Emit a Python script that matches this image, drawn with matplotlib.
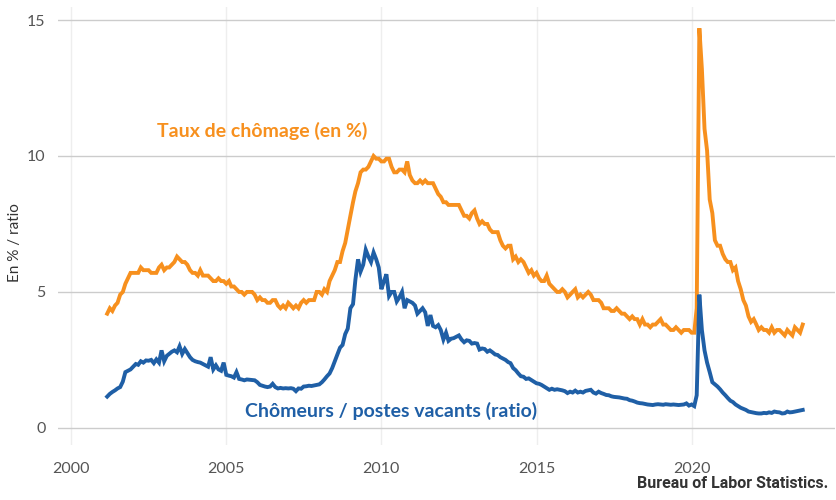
import pandas as pd
import matplotlib.pyplot as plt
import matplotlib.dates as mdates

# taux de chômage (en %), mensuel, mars 2001 -> août 2023
chomage = [
    4.2, 4.4, 4.3, 4.5, 4.6, 4.9, 5.0, 5.3, 5.5, 5.7,                # 2001 (mars-déc)
    5.7, 5.7, 5.7, 5.9, 5.8, 5.8, 5.8, 5.7, 5.7, 5.7, 5.9, 6.0,      # 2002
    5.8, 5.9, 5.9, 6.0, 6.1, 6.3, 6.2, 6.1, 6.1, 6.0, 5.8, 5.7,      # 2003
    5.7, 5.6, 5.8, 5.6, 5.6, 5.6, 5.5, 5.4, 5.4, 5.5, 5.4, 5.4,      # 2004
    5.3, 5.4, 5.2, 5.2, 5.1, 5.0, 5.0, 4.9, 5.0, 5.0, 5.0, 4.9,      # 2005
    4.7, 4.8, 4.7, 4.7, 4.6, 4.6, 4.7, 4.7, 4.5, 4.4, 4.5, 4.4,      # 2006
    4.6, 4.5, 4.4, 4.5, 4.4, 4.6, 4.7, 4.6, 4.7, 4.7, 4.7, 5.0,      # 2007
    5.0, 4.9, 5.1, 5.0, 5.4, 5.6, 5.8, 6.1, 6.1, 6.5, 6.8, 7.3,      # 2008
    7.8, 8.3, 8.7, 9.0, 9.4, 9.5, 9.5, 9.6, 9.8, 10.0, 9.9, 9.9,     # 2009
    9.8, 9.8, 9.9, 9.9, 9.6, 9.4, 9.4, 9.5, 9.5, 9.4, 9.8, 9.3,      # 2010
    9.1, 9.0, 9.0, 9.1, 9.0, 9.1, 9.0, 9.0, 9.0, 8.8, 8.6, 8.5,      # 2011
    8.3, 8.3, 8.2, 8.2, 8.2, 8.2, 8.2, 8.0, 7.8, 7.8, 7.7, 7.9,      # 2012
    8.0, 7.7, 7.5, 7.6, 7.5, 7.5, 7.3, 7.2, 7.2, 7.2, 6.9, 6.7,      # 2013
    6.6, 6.7, 6.7, 6.2, 6.3, 6.1, 6.2, 6.1, 5.9, 5.7, 5.8, 5.6,      # 2014
    5.7, 5.5, 5.4, 5.4, 5.6, 5.3, 5.2, 5.1, 5.0, 5.0, 5.1, 5.0,      # 2015
    4.8, 4.9, 5.0, 5.1, 4.8, 4.9, 4.8, 4.9, 5.0, 4.9, 4.7, 4.7,      # 2016
    4.7, 4.6, 4.4, 4.4, 4.4, 4.3, 4.3, 4.4, 4.3, 4.2, 4.2, 4.1,      # 2017
    4.0, 4.1, 4.0, 4.0, 3.8, 4.0, 3.8, 3.8, 3.7, 3.8, 3.8, 3.9,      # 2018
    4.0, 3.8, 3.8, 3.7, 3.6, 3.6, 3.7, 3.6, 3.5, 3.6, 3.6, 3.6,      # 2019
    3.5, 3.5, 4.4, 14.7, 13.2, 11.0, 10.2, 8.4, 7.9, 6.9, 6.7, 6.7,  # 2020
    6.4, 6.2, 6.1, 6.1, 5.8, 5.9, 5.4, 5.1, 4.7, 4.5, 4.1, 3.9,      # 2021
    4.0, 3.8, 3.6, 3.7, 3.6, 3.6, 3.5, 3.7, 3.5, 3.6, 3.6, 3.5,      # 2022
    3.4, 3.6, 3.5, 3.4, 3.7, 3.6, 3.5, 3.8,                          # 2023 (jan-août)
]

# chômeurs / postes vacants (ratio)
ratio = [
    1.15, 1.25, 1.32, 1.38, 1.45, 1.50, 1.70, 2.05, 2.10, 2.15,
    2.25, 2.35, 2.32, 2.45, 2.40, 2.48, 2.47, 2.50, 2.38, 2.52, 2.40, 2.85,
    2.45, 2.65, 2.72, 2.80, 2.85, 2.78, 3.00, 2.72, 2.90, 2.75, 2.60, 2.50,
    2.45, 2.42, 2.40, 2.35, 2.30, 2.25, 2.60, 2.15, 2.30, 2.15, 2.10, 2.40,
    1.95, 1.92, 1.90, 1.85, 2.05, 1.80, 1.78, 1.75, 1.78, 1.77, 1.76, 1.75,
    1.68, 1.58, 1.55, 1.52, 1.50, 1.52, 1.62, 1.50, 1.45, 1.47, 1.45, 1.46,
    1.45, 1.46, 1.44, 1.35, 1.45, 1.44, 1.52, 1.53, 1.55, 1.54, 1.56, 1.58,
    1.60, 1.68, 1.78, 1.90, 2.00, 2.20, 2.45, 2.70, 2.95, 3.05, 3.45, 3.65,
    4.40, 4.55, 5.45, 6.20, 5.75, 6.00, 6.55, 6.30, 6.10, 6.45, 6.20, 5.90,
    5.10, 5.40, 5.65, 4.85, 5.00, 5.00, 4.65, 4.80, 5.00, 4.40, 4.70, 4.65,
    4.60, 4.50, 4.20, 4.30, 4.40, 4.25, 3.75, 4.15, 3.75, 3.70, 3.78, 3.60,
    3.25, 3.50, 3.20, 3.28, 3.30, 3.35, 3.40, 3.25, 3.15, 3.22, 3.20, 3.10,
    3.12, 3.10, 2.88, 2.92, 2.90, 2.80, 2.85, 2.78, 2.70, 2.68, 2.60, 2.55,
    2.50, 2.42, 2.38, 2.20, 2.12, 2.00, 1.90, 1.88, 1.80, 1.82, 1.76, 1.70,
    1.64, 1.62, 1.58, 1.52, 1.46, 1.40, 1.44, 1.40, 1.42, 1.40, 1.38, 1.35,
    1.28, 1.33, 1.30, 1.37, 1.30, 1.33, 1.30, 1.36, 1.38, 1.40, 1.30, 1.26,
    1.33, 1.28, 1.25, 1.21, 1.20, 1.16, 1.14, 1.13, 1.12, 1.10, 1.08, 1.07,
    1.02, 1.00, 0.97, 0.93, 0.91, 0.90, 0.88, 0.86, 0.85, 0.84, 0.86, 0.87,
    0.86, 0.85, 0.87, 0.86, 0.85, 0.86, 0.85, 0.84, 0.85, 0.86, 0.90, 0.82,
    0.86, 0.80, 1.20, 4.90, 3.60, 2.85, 2.40, 2.05, 1.68, 1.60, 1.52, 1.42,
    1.30, 1.20, 1.10, 1.00, 0.95, 0.86, 0.80, 0.74, 0.70, 0.66, 0.60, 0.58,
    0.56, 0.54, 0.53, 0.53, 0.55, 0.54, 0.57, 0.55, 0.60, 0.58, 0.57, 0.53,
    0.54, 0.60, 0.57, 0.58, 0.60, 0.62, 0.64, 0.66,
]

dates = pd.date_range("2001-03-01", periods=len(chomage), freq="MS")

orange = "#F7901E"
bleu = "#1F5FA6"

plt.rcParams["font.family"] = ["Lato", "DejaVu Sans"]

fig = plt.figure(figsize=(8.36, 5), dpi=100)
ax = fig.add_axes([58 / 836, 0.11, 1 - 59 / 836, 0.876])

ax.plot(dates, chomage, color=orange, lw=2.8, solid_joinstyle="miter")
ax.plot(dates, ratio, color=bleu, lw=2.8, solid_joinstyle="miter")

ax.set_ylim(-0.63, 15.48)
ax.set_xlim(pd.Timestamp("1999-07-31"), pd.Timestamp("2024-08-15"))
ax.set_yticks([0, 5, 10, 15])
ax.xaxis.set_major_locator(mdates.YearLocator(5))
ax.xaxis.set_major_formatter(mdates.DateFormatter("%Y"))

# grille
ax.grid(axis="y", color="#cccccc", lw=1)
ax.grid(axis="x", color="#eeeeee", lw=1)
ax.set_axisbelow(True)
for s in ax.spines.values():
    s.set_visible(False)
ax.tick_params(length=0, labelsize=11.5, labelcolor="#555555")
ax.tick_params(axis="y", pad=9)
ax.tick_params(axis="x", pad=12)

fig.text(15 / 836, 1 - 243 / 500, "En % / ratio", rotation=90, ha="center",
         va="center", fontsize=11, color="#333333")

# étiquettes des séries
ax.text(pd.Timestamp("2002-10-10"), 10.92, "Taux de chômage (en %)",
        color=orange, fontsize=14, fontweight="bold", va="center")
ax.text(pd.Timestamp("2005-08-15"), 0.62, "Chômeurs / postes vacants (ratio)",
        color=bleu, fontsize=14, fontweight="bold", va="center")

fig.text(828 / 836, 0.018, "Bureau of Labor Statistics.", ha="right", va="bottom",
         fontsize=11.5, fontweight="bold", color="#333333", family=["Roboto", "DejaVu Sans"])

fig.savefig("out.png", dpi=100)
